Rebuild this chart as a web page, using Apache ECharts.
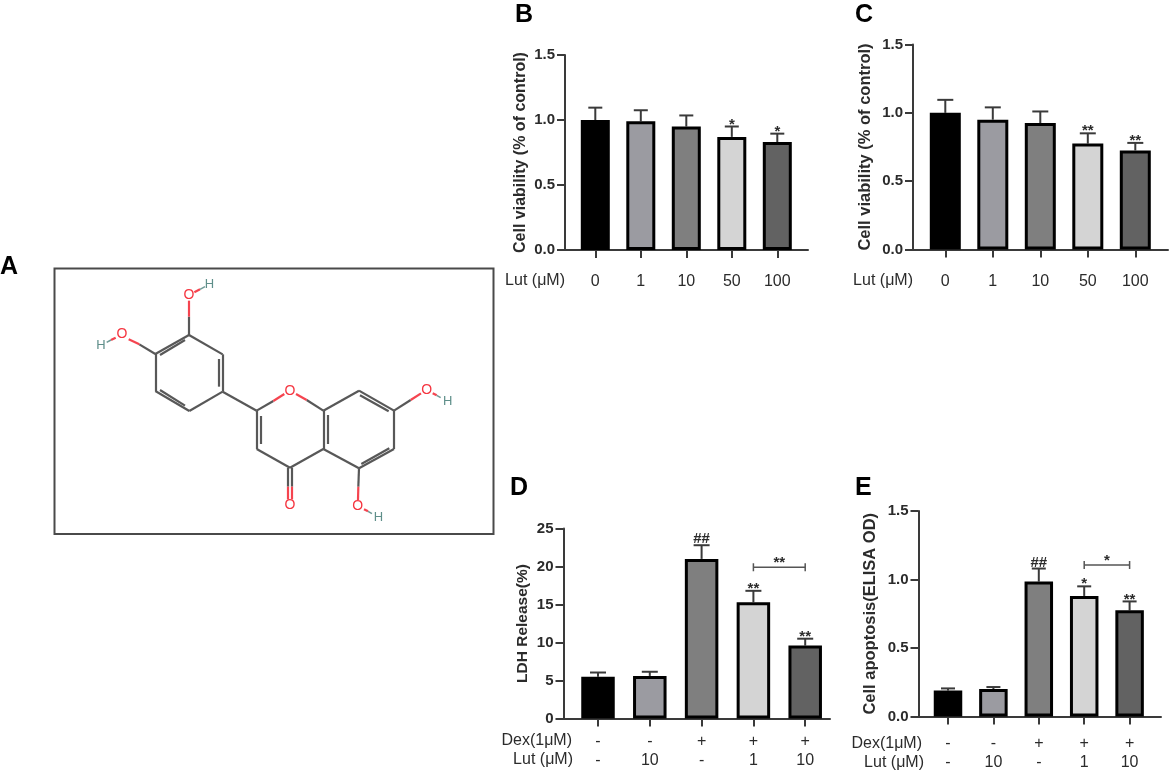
<!DOCTYPE html>
<html><head><meta charset="utf-8">
<style>html,body{margin:0;padding:0;background:#fff}#c{width:1171px;height:774px}</style>
<script src="https://cdn.jsdelivr.net/npm/echarts@6/dist/echarts.min.js"></script>
</head><body><div id="c"></div>
<script>
// ---------- data ----------
const barColors = ['#000000','#9b9ba1','#7f7f7f','#d4d4d4','#626262'];

const doseLabels = ['0','1','10','50','100'];
const bValues = [1.0,0.99,0.95,0.87,0.83];
const bErrTops = [1.095,1.075,1.035,0.95,0.895];
const bMarks = ['','','','*','*'];
const cValues = [1.0,0.95,0.925,0.775,0.725];
const cErrTops = [1.095,1.04,1.01,0.85,0.78];
const cMarks = ['','','','**','**'];

const dexRow = ['-','-','+','+','+'];
const lutRow = ['-','10','-','1','10'];
const dValues = [5.5,5.6,21,15.3,9.6];
const dErrTops = [6.05,6.15,22.8,16.8,10.5];
const dMarks = ['','','##','**','**'];
const dBracket = [3,4,19.9,'**'];
const eValues = [0.19,0.2,0.985,0.88,0.775];
const eErrTops = [0.205,0.215,1.08,0.95,0.84];
const eMarks = ['','','##','*','**'];
const eBracket = [3,4,1.106,'*'];

// molecule (drawing units on a hidden 1500 x 900 axis pair)
const greyBonds = [
 [567,285,668,343],[668,343,668,455],[668,455,568,513],[568,513,466,453],[466,453,466,342],[466,342,567,285],
 [555,300,480,345],[655,357,655,440],[555,497,480,450],
 [668,455,770,512],[770,512,770,627],[782,528,782,612],[770,627,870,683],[870,683,970,627],[970,627,970,512],[983,525,983,612],
 [970,512,1077,452],[1077,452,1182,512],[1080,466,1166,514],[1182,512,1182,627],[1182,627,1077,685],[1168,625,1084,672],[1077,685,970,627],
 [567,285,567,230],[466,342,418,313],[770,512,820,483],[920,480,970,512],[1182,512,1232,480],[1077,685,1075,740],
 [864,683,864,740],[876,683,876,740]
];
const redBonds = [
 [567,230,567,182],[418,313,386,298],[820,483,853,462],[888,462,920,480],[1232,480,1263,460],[1075,740,1074,780],
 [864,740,864,778],[876,740,876,778],[583,157,600,148],[347,293,333,300],[1298,460,1310,466],[1092,808,1104,814]
];
const tealBonds = [[600,148,615,140],[333,300,320,307],[1310,466,1322,473],[1104,814,1116,821]];
const oxygenAtoms = [[567,165],[366,282],[870,452],[1280,450],[870,795],[1073,797]];
const hydrogenAtoms = [[628,132],[303,315],[1343,485],[1135,832]];

// ---------- layout ----------
const textColor = '#2b2b2b', lineColor = '#3a3a3a';
const fontFamily = '"Liberation Sans", Arial, sans-serif';
const panels = [
 {cats:doseLabels, vals:bValues, tops:bErrTops, marks:bMarks, max:1.5, step:0.5, dec:1, name:'Cell viability (% of control)',
  axisX:565, endX:808, y0:250, yTop:55, c0:595.3, gap:45.5, barW:29, cap:7, nameGap:36, margin:23, lh:18, nameSize:16},
 {cats:doseLabels, vals:cValues, tops:cErrTops, marks:cMarks, max:1.5, step:0.5, dec:1, name:'Cell viability (% of control)',
  axisX:913, endX:1168, y0:249.5, yTop:44.5, c0:945.3, gap:47.5, barW:31, cap:8, nameGap:39, margin:23, lh:18, nameSize:16.5},
 {cats:dexRow.map((d,i)=>d+'\n'+lutRow[i]), vals:dValues, tops:dErrTops, marks:dMarks, bracket:dBracket, max:25, step:5, dec:0, name:'LDH Release(%)',
  axisX:563.5, endX:830, y0:718.5, yTop:528.5, c0:598, gap:51.8, barW:33.5, cap:8, nameGap:33, margin:14, lh:18.5, nameSize:15.5},
 {cats:dexRow.map((d,i)=>d+'\n'+lutRow[i]), vals:eValues, tops:eErrTops, marks:eMarks, bracket:eBracket, max:1.5, step:0.5, dec:1, name:'Cell apoptosis(ELISA OD)',
  axisX:918.5, endX:1161, y0:716.5, yTop:511, c0:948, gap:45.4, barW:28.5, cap:7, nameGap:40, margin:17, lh:19.5, nameSize:16.5}
];
const grids=[], xAxes=[], yAxes=[], series=[];

panels.forEach(p=>{
  // frame: the axis lines, running past the bars as in the reference
  const fi = grids.length;
  grids.push({left:p.axisX, top:p.yTop, width:p.endX-p.axisX, height:p.y0-p.yTop});
  xAxes.push({gridIndex:fi, type:'value', min:0, max:1, axisLine:{show:true,lineStyle:{color:lineColor,width:2}}, axisTick:{show:false}, axisLabel:{show:false}, splitLine:{show:false}});
  yAxes.push({gridIndex:fi, type:'value', min:0, max:p.max, interval:p.step,
    axisLine:{show:true,lineStyle:{color:lineColor,width:2}}, axisTick:{show:true,length:8,lineStyle:{color:lineColor,width:2}},
    axisLabel:{color:textColor,fontSize:15,fontWeight:'bold',fontFamily,margin:10,formatter:v=>v.toFixed(p.dec)},
    splitLine:{show:false},
    name:p.name,nameLocation:'middle',nameRotate:90,nameGap:p.nameGap,
    nameTextStyle:{color:textColor,fontSize:p.nameSize,fontWeight:'bold',fontFamily}});
  // bars: category bands centred on the groups
  const bi = grids.length;
  grids.push({left:p.c0-p.gap/2, top:p.yTop, width:p.gap*5, height:p.y0-p.yTop});
  xAxes.push({gridIndex:bi, type:'category', data:p.cats, axisLine:{show:false},
    axisTick:{show:true,alignWithLabel:true,length:8,lineStyle:{color:lineColor,width:2}},
    axisLabel:{color:textColor,fontSize:16,fontFamily,margin:p.margin,lineHeight:p.lh,interval:0}});
  yAxes.push({gridIndex:bi, type:'value', min:0, max:p.max, show:false});
  series.push({type:'custom', xAxisIndex:bi, yAxisIndex:bi, z:1, silent:true,
    data:p.vals.map((v,i)=>[i,v,p.tops[i]]),
    renderItem:(params,api)=>{
      const i=api.value(0), a=api.coord([i,api.value(1)]), b=api.coord([i,api.value(2)]);
      const ls={stroke:lineColor,lineWidth:2};
      const mark=p.marks[i];
      const kids=[
        {type:'line',shape:{x1:a[0],y1:a[1],x2:b[0],y2:b[1]},style:ls},
        {type:'line',shape:{x1:b[0]-p.cap,y1:b[1],x2:b[0]+p.cap,y2:b[1]},style:ls}];
      if(mark) kids.push({type:'text',x:b[0],y:b[1]-(mark==='##'?6:2),style:{text:mark,fill:textColor,fontSize:15,fontFamily,fontWeight:'bold',align:'center',verticalAlign:'middle'}});
      return {type:'group',children:kids};
    }});
  series.push({type:'bar', xAxisIndex:bi, yAxisIndex:bi, z:2, barWidth:p.barW, silent:true,
    data:p.vals.map((v,i)=>({value:v,itemStyle:{color:barColors[i],borderColor:'#000',borderWidth:3}}))});
  if(p.bracket){
    series.push({type:'custom', xAxisIndex:bi, yAxisIndex:bi, z:3, silent:true, data:[p.bracket.slice(0,3)],
      renderItem:(params,api)=>{
        const a=api.coord([api.value(0),api.value(2)]), b=api.coord([api.value(1),api.value(2)]);
        const ls={stroke:'#555',lineWidth:1.5};
        return {type:'group',children:[
          {type:'line',shape:{x1:a[0],y1:a[1],x2:b[0],y2:b[1]},style:ls},
          {type:'line',shape:{x1:a[0],y1:a[1]-4,x2:a[0],y2:a[1]+4},style:ls},
          {type:'line',shape:{x1:b[0],y1:b[1]-4,x2:b[0],y2:b[1]+4},style:ls},
          {type:'text',x:(a[0]+b[0])/2,y:a[1]-4,style:{text:p.bracket[3],fill:textColor,fontSize:15,fontFamily,fontWeight:'bold',align:'center',verticalAlign:'middle'}}
        ]};
      }});
  }
});

// molecule on a hidden axis pair
const mi = grids.length;
grids.push({left:0, top:240, width:500, height:300});
xAxes.push({gridIndex:mi, type:'value', min:0, max:1500, show:false});
yAxes.push({gridIndex:mi, type:'value', min:0, max:900, inverse:true, show:false});
[[greyBonds,'#585858',2.2],[redBonds,'#f5444f',2.2],[tealBonds,'#6f9a96',1.6]].forEach(([segs,col,w])=>{
  series.push({type:'lines', coordinateSystem:'cartesian2d', xAxisIndex:mi, yAxisIndex:mi, silent:true,
    lineStyle:{color:col,width:w,opacity:1}, data:segs.map(s=>({coords:[[s[0],s[1]],[s[2],s[3]]]}))});
});
[[oxygenAtoms,'O','#f5343f',14],[hydrogenAtoms,'H','#5f8f8a',13]].forEach(([pts,t,col,fs])=>{
  series.push({type:'custom', xAxisIndex:mi, yAxisIndex:mi, silent:true, data:pts,
    renderItem:(params,api)=>{
      const c=api.coord([api.value(0),api.value(1)]);
      return {type:'text',x:c[0],y:c[1],style:{text:t,fill:col,fontSize:fs,fontFamily,align:'center',verticalAlign:'middle'}};
    }});
});

const txt=(text,x,y,o={})=>({type:'text',x,y,silent:true,style:Object.assign({text,fill:textColor,fontFamily,fontSize:16,align:'right',verticalAlign:'middle'},o)});
const head={fontSize:25,fontWeight:'bold',fill:'#000',align:'left'};
const graphic=[
 {type:'rect',shape:{x:54.5,y:268.5,width:439,height:265.5},style:{fill:'none',stroke:'#4a4a4a',lineWidth:2},silent:true},
 txt('A',0,267,head),txt('B',515,15,head),txt('C',855,15,head),txt('D',510,488,head),txt('E',855,488,head),
 txt('Lut (μM)',565,281),txt('Lut (μM)',913,281),
 txt('Dex(1μM)',572,741),txt('Lut (μM)',573,759.5),
 txt('Dex(1μM)',922,743.5),txt('Lut (μM)',924,762.5)
];

const chart=echarts.init(document.getElementById('c'),null,{renderer:'canvas'});
chart.setOption({animation:false,backgroundColor:'#fff',tooltip:{show:false},grid:grids,xAxis:xAxes,yAxis:yAxes,series,graphic});
</script></body></html>
